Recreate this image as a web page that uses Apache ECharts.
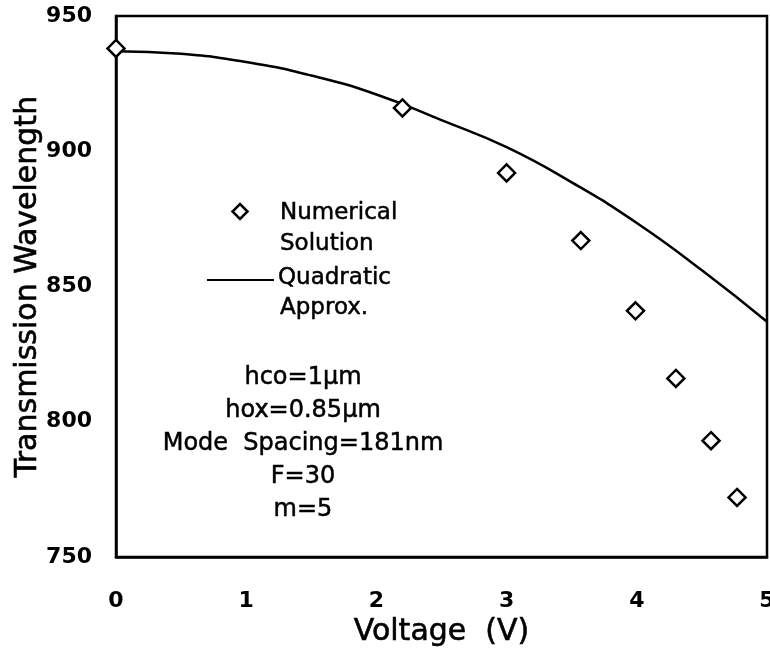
<!DOCTYPE html>
<html>
<head>
<meta charset="utf-8">
<title>Transmission Wavelength vs Voltage</title>
<script src="https://cdn.jsdelivr.net/npm/echarts@6/dist/echarts.min.js"></script>
<style>
  html, body { margin: 0; padding: 0; background: #fff; }
  #chart { width: 770px; height: 652px; }
</style>
</head>
<body>
<div id="chart"></div>
<script>
// Numerical solution (diamonds)
var numVoltage = [0, 2.2, 3.0, 3.57, 3.99, 4.3, 4.57, 4.77];
var numWavelength = [938, 916, 892, 867, 841, 816, 793, 772];

// Quadratic approximation (solid curve)
var quadVoltage = [0, 0.5, 1, 1.5, 2, 2.5, 3, 3.5, 4, 4.5, 5];
var quadWavelength = [937, 936, 933, 928, 921, 911.5, 901.5, 888.5, 873.5, 856, 837];

// Axis ticks
var xTicks = [0, 1, 2, 3, 4, 5];
var yTicks = [750, 800, 850, 900, 950];

// Annotation lines
var paramLines = ['hco=1\u03bcm', 'hox=0.85\u03bcm', 'Mode  Spacing=181nm', 'F=30', 'm=5'];

var FONT = '"DejaVu Sans", "Liberation Sans", Arial, sans-serif';

var chart = echarts.init(document.getElementById('chart'), null, { renderer: 'canvas' });

function annot(text, x, y, align, size, extra) {
  var style = {
    text: text, x: x, y: y,
    align: align, verticalAlign: 'middle',
    font: size + 'px ' + FONT,
    fill: '#000', stroke: '#000', lineWidth: 0.5
  };
  if (extra) { for (var k in extra) { style[k] = extra[k]; } }
  return { type: 'text', style: style };
}

var option = {
  animation: false,
  backgroundColor: '#fff',
  grid: {
    left: 116, right: 3, top: 16, bottom: 95,
    outerBoundsMode: 'none',
    containLabel: false,
    show: true, borderColor: '#000', borderWidth: 2.5, backgroundColor: 'transparent'
  },
  xAxis: {
    type: 'value',
    min: xTicks[0],
    max: xTicks[xTicks.length - 1],
    interval: 1,
    axisLine: { show: true, lineStyle: { color: '#000', width: 2.5 } },
    axisTick: { show: false },
    splitLine: { show: false },
    axisLabel: {
      margin: 33,
      showMinLabel: true,
      showMaxLabel: true,
      hideOverlap: false,
      color: '#000',
      fontFamily: FONT,
      fontWeight: 'bold',
      fontSize: 22
    },
    name: 'Voltage  (V)',
    nameLocation: 'middle',
    nameGap: 60,
    nameMoveOverlap: false,
    nameTextStyle: { color: '#000', fontFamily: FONT, fontSize: 30, textBorderColor: '#000', textBorderWidth: 0.6 }
  },
  yAxis: {
    type: 'value',
    min: yTicks[0],
    max: yTicks[yTicks.length - 1],
    interval: 50,
    axisLine: { show: true, lineStyle: { color: '#000', width: 2.5 } },
    axisTick: { show: false },
    splitLine: { show: false },
    axisLabel: {
      margin: 24,
      showMinLabel: true,
      showMaxLabel: true,
      hideOverlap: false,
      color: '#000',
      fontFamily: FONT,
      fontWeight: 'bold',
      fontSize: 22
    },
    name: 'Transmission Wavelength',
    nameLocation: 'middle',
    nameGap: 73,
    nameMoveOverlap: false,
    nameTextStyle: { color: '#000', fontFamily: FONT, fontSize: 30, textBorderColor: '#000', textBorderWidth: 0.6 }
  },
  series: [
    {
      name: 'Quadratic Approx.',
      type: 'line',
      data: quadVoltage.map(function (v, i) { return [v, quadWavelength[i]]; }),
      smooth: 0.5,
      showSymbol: false,
      symbol: 'none',
      lineStyle: { color: '#000', width: 2.5 },
      z: 2
    },
    {
      name: 'Numerical Solution',
      type: 'scatter',
      data: numVoltage.map(function (v, i) { return [v, numWavelength[i]]; }),
      symbol: 'diamond',
      symbolSize: [17, 17],
      itemStyle: { color: '#fff', borderColor: '#000', borderWidth: 2.5, opacity: 1 },
      z: 3
    }
  ],
  graphic: [
    // legend: diamond marker
    {
      type: 'polygon',
      shape: { points: [[240, 204], [247.5, 211.5], [240, 219], [232.5, 211.5]] },
      style: { fill: '#fff', stroke: '#000', lineWidth: 2.5 }
    },
    annot('Numerical', 280, 213, 'left', 23),
    annot('Solution', 280, 244, 'left', 23),
    // legend: solid line
    {
      type: 'line',
      shape: { x1: 207, y1: 280, x2: 274, y2: 280 },
      style: { stroke: '#000', lineWidth: 2 }
    },
    annot('Quadratic', 278, 278, 'left', 23),
    annot('Approx.', 280, 308, 'left', 23),
    // parameter block
    annot(paramLines.join('\n'), 303, 444, 'center', 24, { lineHeight: 33 })
  ]
};

chart.setOption(option);
</script>
</body>
</html>
